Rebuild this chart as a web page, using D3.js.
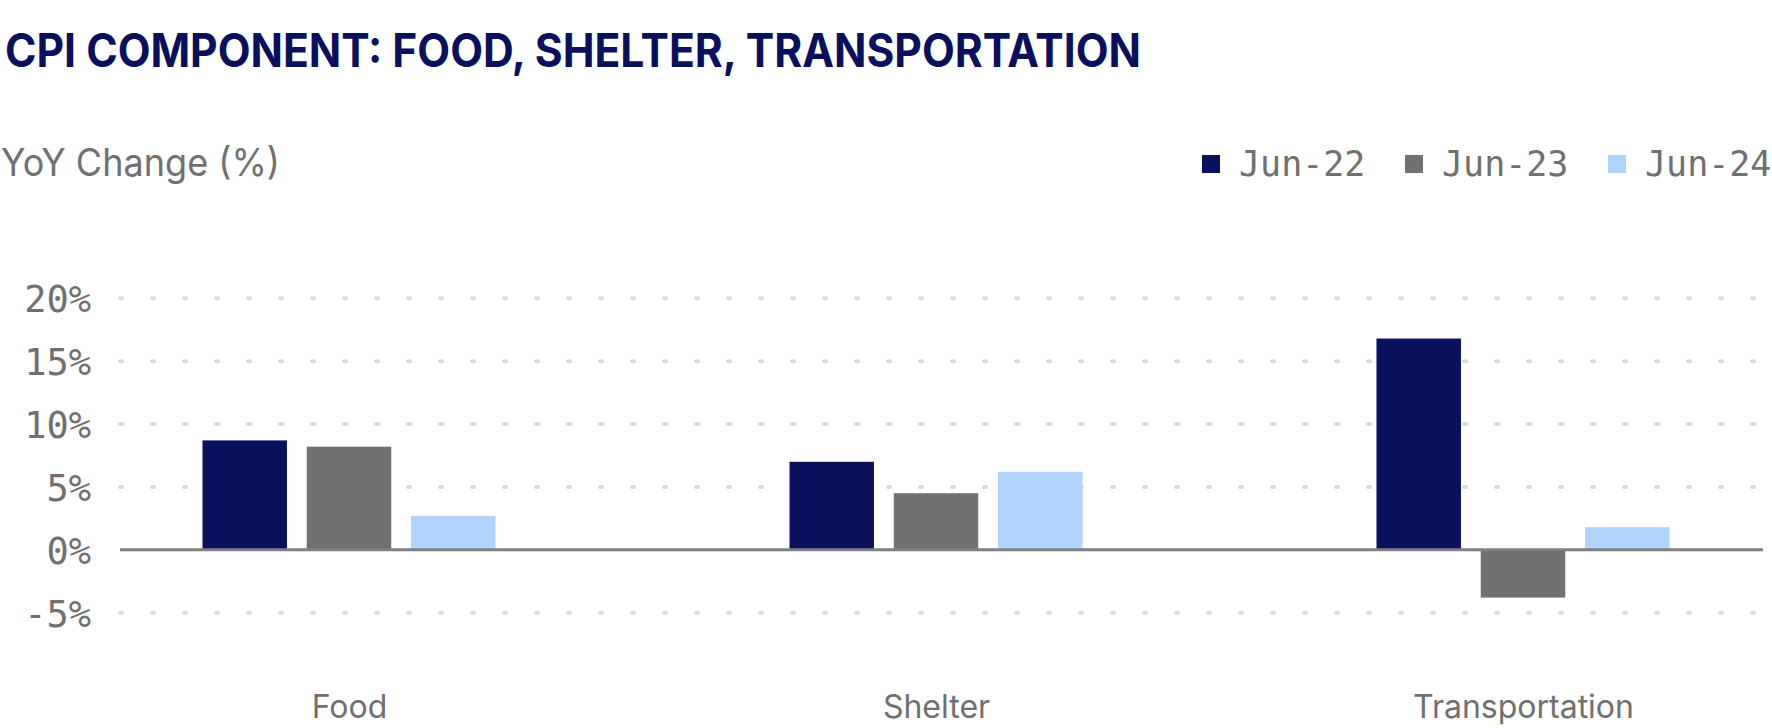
<!DOCTYPE html>
<html>
<head>
<meta charset="utf-8">
<script src="https://cdn.jsdelivr.net/npm/d3@7"></script>
<style>
  html, body { margin: 0; padding: 0; background: #ffffff; }
  svg { display: block; }
</style>
</head>
<body>
<svg id="chart" width="1772" height="728"></svg>
<script>
// ---- Data ----
const categories = ["Food", "Shelter", "Transportation"];
const seriesNames = ["Jun-22", "Jun-23", "Jun-24"];
const jun22 = [8.7, 7.0, 16.8];
const jun23 = [8.2, 4.5, -3.8];
const jun24 = [2.7, 6.2, 1.8];
const yTicks = [-5, 0, 5, 10, 15, 20];
const yTickLabels = ["-5%", "0%", "5%", "10%", "15%", "20%"];
const seriesColors = ["#0a105c", "#717171", "#b0d4fd"];

const title = "CPI COMPONENT: FOOD, SHELTER, TRANSPORTATION";
const yAxisTitle = "YoY Change (%)";

const seriesValues = [jun22, jun23, jun24];
const table = categories.map((c, i) => ({
  category: c,
  values: seriesNames.map((s, j) => ({ series: s, value: seriesValues[j][i] }))
}));

// ---- Layout ----
const svg = d3.select("#chart");
const plotLeft = 120, plotRight = 1763;

const y = d3.scaleLinear().domain([-5, 20]).range([612.7, 298.3]);
const x = d3.scalePoint().domain(categories).range([349, 1523]);
const xs = d3.scaleBand().domain(seriesNames).range([-146.5, 146.5]).paddingInner(0.19);
const color = d3.scaleOrdinal().domain(seriesNames).range(seriesColors);

const textGray = "#707070";
const sansFont = "Inter, 'Noto Sans', sans-serif";
const monoFont = "'DejaVu Sans Mono', 'Liberation Mono', monospace";

// Title
svg.append("text")
  .attr("x", 5).attr("y", 67)
  .attr("font-family", sansFont)
  .attr("font-weight", 700)
  .attr("font-size", 46)
  .attr("fill", "#0a105c")
  .attr("textLength", 1136)
  .attr("lengthAdjust", "spacingAndGlyphs")
  .text(title);

// Y axis title
svg.append("text")
  .attr("x", 1).attr("y", 176)
  .attr("font-family", sansFont)
  .attr("font-size", 38)
  .attr("fill", textGray)
  .attr("textLength", 279)
  .attr("lengthAdjust", "spacingAndGlyphs")
  .text(yAxisTitle);

// Legend
const legend = svg.append("g").attr("transform", "translate(1202,0)");
const li = legend.selectAll("g").data(seriesNames).join("g")
  .attr("transform", (d, i) => `translate(${i * 203},0)`);
li.append("rect").attr("x", 0).attr("y", 155).attr("width", 18).attr("height", 18)
  .attr("fill", d => color(d));
li.append("text").attr("x", 37).attr("y", 176)
  .attr("font-family", monoFont)
  .attr("font-size", 35)
  .attr("fill", textGray)
  .text(d => d);

// Gridlines (dotted)
const grid = svg.append("g");
grid.selectAll("line").data(yTicks.filter(t => t !== 0)).join("line")
  .attr("x1", plotLeft).attr("x2", plotRight)
  .attr("y1", d => y(d)).attr("y2", d => y(d))
  .attr("stroke", "#d9d9d9")
  .attr("stroke-width", 4)
  .attr("stroke-linecap", "round")
  .attr("stroke-dasharray", "2 30");

// Y axis tick labels via d3 axis
const yAxis = d3.axisLeft(y)
  .tickValues(yTicks)
  .tickSize(0)
  .tickPadding(0)
  .tickFormat((d) => yTickLabels[yTicks.indexOf(d)]);
const yg = svg.append("g").attr("transform", "translate(91,0)").call(yAxis);
yg.select(".domain").remove();
yg.selectAll("text")
  .attr("font-family", monoFont)
  .attr("font-size", 37)
  .attr("fill", textGray)
  .attr("dy", "0.36em");

// Bars
const groups = svg.append("g").selectAll("g").data(table).join("g")
  .attr("transform", d => `translate(${x(d.category)},0)`);
groups.selectAll("rect").data(d => d.values).join("rect")
  .attr("x", d => xs(d.series))
  .attr("width", xs.bandwidth())
  .attr("y", d => y(Math.max(0, d.value)))
  .attr("height", d => Math.abs(y(d.value) - y(0)))
  .attr("fill", d => color(d.series));

// Zero line
svg.append("line")
  .attr("x1", plotLeft).attr("x2", plotRight)
  .attr("y1", y(0)).attr("y2", y(0))
  .attr("stroke", "#808080").attr("stroke-width", 3);

// X axis category labels via d3 axis
const xAxis = d3.axisBottom(x).tickSize(0).tickPadding(0);
const xg = svg.append("g").attr("transform", "translate(0,718)").call(xAxis);
xg.select(".domain").remove();
xg.selectAll("text")
  .attr("font-family", sansFont)
  .attr("font-size", 32)
  .attr("fill", textGray)
  .attr("dy", 0);
</script>
</body>
</html>
